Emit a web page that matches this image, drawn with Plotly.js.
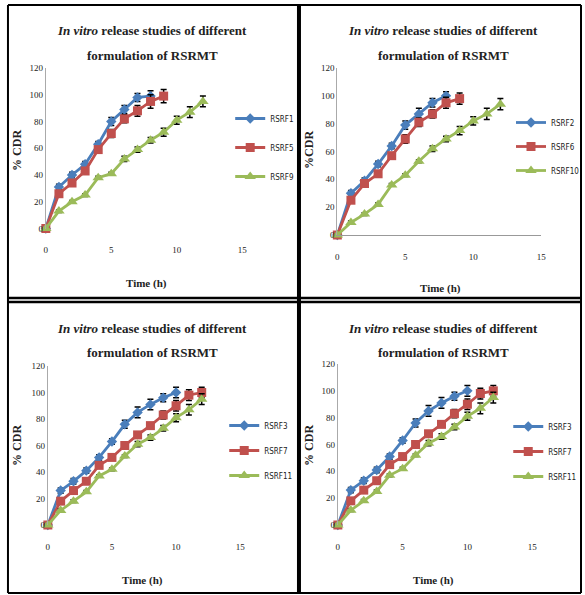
<!DOCTYPE html>
<html>
<head>
<meta charset="utf-8">
<script src="https://cdn.plot.ly/plotly-3.0.1.min.js"></script>
<style>html,body{margin:0;padding:0;background:#fff;}#chart{width:585px;height:595px;}</style>
</head>
<body>
<div id="chart"></div>
<script>
// ---------- DATA ----------
const xTicks = [0, 5, 10, 15];
const yTicks = [0, 20, 40, 60, 80, 100, 120];
const time8 = [0,1,2,3,4,5,6,7,8];
const time9 = [0,1,2,3,4,5,6,7,8,9];
const time10 = [0,1,2,3,4,5,6,7,8,9,10];
const time12 = [0,1,2,3,4,5,6,7,8,9,10,11,12];

// Panel 1
const rsrf1 = [0,31,40,48,63,80,89,98,99];
const rsrf1Err = [0,2,2,2,2,3,3,3,4];
const rsrf5 = [0,26,34,43,59,71,82,88,95,99];
const rsrf5Err = [0,2,2,2,2,3,3,4,5,5];
const rsrf9 = [0,13,20,25,38,41,52,59,66,72,81,87,95];
const rsrf9Err = [0,1,1,1,1,1,2,2,2,3,3,4,4];
// Panel 2
const rsrf2 = [0,30,39,51,64,79,87,95,100];
const rsrf2Err = [0,2,2,2,2,3,4,3,3];
const rsrf6 = [0,25,37,44,57,69,81,87,95,98];
const rsrf6Err = [0,2,2,2,2,3,3,3,4,4];
const rsrf10 = [0,9,15,22,36,43,53,62,69,75,82,87,94];
const rsrf10Err = [0,1,1,1,1,1,1,2,2,3,3,4,4];
// Panels 3 and 4 (same data shown twice)
const rsrf3 = [0,26,33,41,51,63,76,85,91,96,100];
const rsrf3Err = [0,2,2,2,2,2,3,4,4,3,4];
const rsrf7 = [0,18,26,33,45,51,60,68,75,83,90,98,100];
const rsrf7Err = [0,2,2,2,2,2,2,2,2,3,4,4,4];
const rsrf11 = [0,11,18,25,37,42,52,61,66,73,81,87,95];
const rsrf11Err = [0,1,1,1,1,1,1,2,2,2,3,4,4];

const panelSeries = [
  [["RSRF1", time8, rsrf1, rsrf1Err], ["RSRF5", time9, rsrf5, rsrf5Err], ["RSRF9", time12, rsrf9, rsrf9Err]],
  [["RSRF2", time8, rsrf2, rsrf2Err], ["RSRF6", time9, rsrf6, rsrf6Err], ["RSRF10", time12, rsrf10, rsrf10Err]],
  [["RSRF3", time10, rsrf3, rsrf3Err], ["RSRF7", time12, rsrf7, rsrf7Err], ["RSRF11", time12, rsrf11, rsrf11Err]],
  [["RSRF3", time10, rsrf3, rsrf3Err], ["RSRF7", time12, rsrf7, rsrf7Err], ["RSRF11", time12, rsrf11, rsrf11Err]]
];
const yTitles = ["% CDR", "%CDR", "% CDR", "% CDR"];
const xTitle = "Time (h)";
const titleLine1 = "<i>In vitro</i> release studies of different";
const titleLine2 = "formulation of RSRMT";

// ---------- STYLE / LAYOUT ----------
const W = 585, H = 595;
const fx = p => p / W;
const fy = p => 1 - p / H;
const colors = ["#4A7EBB", "#C0504D", "#9BBB59"];
const symbols = ["diamond", "square", "triangle-up"];
const msizes = [8, 9, 10];
const serif = "Liberation Serif, Times New Roman, serif";
const narrow = "Liberation Sans Narrow, DejaVu Sans Condensed, Liberation Sans, Arial, sans-serif";

const geo = [
  {x0: 46, x15: 243, y0: 228.5, y120: 68, tx: 153, t1: 30, t2: 55, ytx: 17, yty: 150, xtx: 147, xty: 283, lx: 231, ly: 104, gap: 10},
  {x0: 338.5, x15: 543, y0: 235, y120: 68, tx: 445, t1: 30, t2: 55, ytx: 310, yty: 150, xtx: 442, xty: 288, lx: 513, ly: 108, gap: 5},
  {x0: 48, x15: 241, y0: 525, y120: 366, tx: 153, t1: 328, t2: 352, ytx: 17, yty: 445, xtx: 143, xty: 580, lx: 225, ly: 411, gap: 6},
  {x0: 339, x15: 534, y0: 525, y120: 364, tx: 445, t1: 328, t2: 352, ytx: 310, yty: 445, xtx: 435, xty: 580, lx: 510, ly: 412, gap: 6}
];

const traces = [];
const layout = {
  width: W, height: H,
  margin: {l: 0, r: 0, t: 0, b: 0},
  paper_bgcolor: "#fff", plot_bgcolor: "#fff",
  showlegend: true,
  annotations: [], shapes: []
};

geo.forEach((g, i) => {
  const n = i + 1;
  const sfx = n === 1 ? "" : String(n);
  const xa = "xaxis" + sfx, ya = "yaxis" + sfx, lg = "legend" + sfx;
  layout[xa] = {
    domain: [fx(g.x0), fx(g.x15)], range: [0, 15], anchor: "y" + sfx,
    tickvals: xTicks, ticks: "outside", ticklen: 13, tickcolor: "rgba(0,0,0,0)",
    showgrid: false, zeroline: false,
    showline: n === 2, linecolor: "#999", linewidth: 1,
    tickfont: {family: serif, size: 9, color: "#222"}, fixedrange: true
  };
  layout[ya] = {
    domain: [fy(g.y0), fy(g.y120)], range: [0, 120], anchor: "x" + sfx,
    tickvals: yTicks, ticks: "", showgrid: false, zeroline: false,
    showline: true, linecolor: "#aaa", linewidth: 1,
    tickfont: {family: serif, size: 9, color: "#222"}, fixedrange: true
  };
  layout[lg] = {
    x: fx(g.lx), y: fy(g.ly), xanchor: "left", yanchor: "top",
    bgcolor: "rgba(0,0,0,0)", borderwidth: 0, tracegroupgap: g.gap,
    font: {family: narrow, size: 8, color: "#222"}
  };
  panelSeries[i].forEach((s, k) => {
    traces.push({
      type: "scatter", mode: "lines+markers", name: s[0],
      x: s[1], y: s[2],
      xaxis: "x" + sfx, yaxis: "y" + sfx,
      legend: lg, legendgroup: "p" + n + "s" + k,
      line: {color: colors[k], width: 2.8},
      marker: {color: colors[k], symbol: symbols[k], size: msizes[k]},
      error_y: {type: "data", array: s[3], visible: true, color: "#000", thickness: 1.5, width: 3},
      cliponaxis: false
    });
  });
  layout.annotations.push(
    {xref: "paper", yref: "paper", x: fx(g.tx), y: fy(g.t1), text: "<b>" + titleLine1 + "</b>", showarrow: false,
     xanchor: "center", yanchor: "middle", font: {family: serif, size: 13, color: "#222"}},
    {xref: "paper", yref: "paper", x: fx(g.tx), y: fy(g.t2), text: "<b>" + titleLine2 + "</b>", showarrow: false,
     xanchor: "center", yanchor: "middle", font: {family: serif, size: 13, color: "#222"}},
    {xref: "paper", yref: "paper", x: fx(g.ytx), y: fy(g.yty), text: "<b>" + yTitles[i] + "</b>", showarrow: false,
     textangle: -90, xanchor: "center", yanchor: "middle", font: {family: serif, size: 12, color: "#222"}},
    {xref: "paper", yref: "paper", x: fx(g.xtx), y: fy(g.xty), text: "<b>" + xTitle + "</b>", showarrow: false,
     xanchor: "center", yanchor: "middle", font: {family: serif, size: 11, color: "#222"}}
  );
});

// frame lines
const line = (x0, y0, x1, y1, w, c) => ({type: "line", xref: "paper", yref: "paper", layer: "below",
  x0: fx(x0), y0: fy(y0), x1: fx(x1), y1: fy(y1), line: {color: c || "#000", width: w}});
layout.shapes.push(
  line(8, 5, 583, 5, 2), line(8, 5, 8, 593, 2), line(8, 593, 583, 593, 2), line(583, 5, 583, 593, 2),
  line(300, 5, 300, 593, 4),
  line(8, 298, 583, 298, 2.5), line(8, 302, 583, 302, 2.5)
);

Plotly.newPlot("chart", traces, layout, {staticPlot: true, displayModeBar: false});
</script>
</body>
</html>
